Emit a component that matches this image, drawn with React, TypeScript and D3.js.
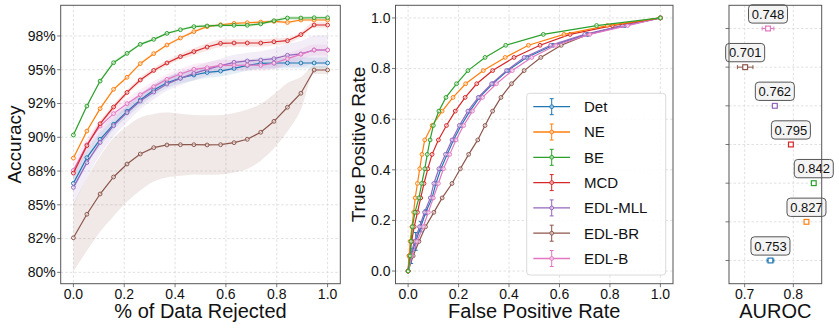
import React from 'react';
import * as d3 from 'd3';

const MODELS = ['Det', 'NE', 'BE', 'MCD', 'EDL-MLL', 'EDL-BR', 'EDL-B'];
const COLORS = ['#1f77b4', '#ff7f0e', '#2ca02c', '#d62728', '#9467bd', '#8c564b', '#e377c2'];

// Panel 1: accuracy vs fraction rejected
const REJECT = [0, 0.053, 0.105, 0.158, 0.211, 0.263, 0.316, 0.368, 0.421, 0.474, 0.526, 0.579, 0.632, 0.684, 0.737, 0.789, 0.842, 0.895, 0.947, 1];
const ACC_DET = [0.8659, 0.8849, 0.8985, 0.9096, 0.9192, 0.9276, 0.935, 0.9404, 0.9439, 0.9461, 0.948, 0.949, 0.951, 0.9532, 0.9547, 0.955, 0.955, 0.955, 0.955, 0.955];
const ACC_NE = [0.8846, 0.9046, 0.9212, 0.9355, 0.9444, 0.9545, 0.9619, 0.9683, 0.9735, 0.9782, 0.9819, 0.9833, 0.9843, 0.9848, 0.9853, 0.9858, 0.985, 0.9868, 0.9868, 0.9868];
const ACC_BE = [0.9017, 0.9231, 0.9416, 0.9552, 0.9621, 0.9688, 0.9725, 0.9769, 0.9796, 0.9819, 0.9824, 0.9829, 0.9829, 0.9829, 0.9839, 0.9863, 0.9883, 0.9883, 0.9885, 0.9885];
const ACC_MCD = [0.8735, 0.8938, 0.91, 0.9224, 0.9332, 0.9424, 0.9495, 0.955, 0.9597, 0.9634, 0.9668, 0.9695, 0.9698, 0.9698, 0.9698, 0.9707, 0.9715, 0.976, 0.9831, 0.9831];
const ACC_MLL = [0.8629, 0.8812, 0.8962, 0.9086, 0.9182, 0.9268, 0.9335, 0.9394, 0.9436, 0.9473, 0.9503, 0.953, 0.9555, 0.9565, 0.9572, 0.9582, 0.9607, 0.9617, 0.9646, 0.9646];
const ACC_BR = [0.8256, 0.843, 0.858, 0.8706, 0.8802, 0.8876, 0.8923, 0.8943, 0.8945, 0.8945, 0.8943, 0.8945, 0.896, 0.8985, 0.9037, 0.9118, 0.9222, 0.9326, 0.9498, 0.9498];
const ACC_B = [0.8755, 0.8945, 0.9083, 0.9175, 0.9249, 0.9315, 0.9375, 0.9429, 0.9468, 0.9503, 0.9515, 0.9532, 0.9532, 0.9535, 0.9533, 0.9548, 0.9582, 0.9614, 0.9646, 0.9646];

const STD_DET = [0.006, 0.005, 0.005, 0.004, 0.004, 0.004, 0.004, 0.004, 0.004, 0.004, 0.004, 0.004, 0.004, 0.004, 0.004, 0.004, 0.004, 0.004, 0.004, 0.004];
const STD_NE = [0.001, 0.001, 0.001, 0.001, 0.001, 0.001, 0.001, 0.001, 0.001, 0.001, 0.001, 0.001, 0.001, 0.001, 0.001, 0.001, 0.001, 0.001, 0.001, 0.001];
const STD_BE = [0.001, 0.001, 0.001, 0.001, 0.001, 0.001, 0.001, 0.001, 0.001, 0.001, 0.001, 0.001, 0.001, 0.001, 0.001, 0.0012, 0.0015, 0.0015, 0.0015, 0.0015];
const STD_MCD = [0.002, 0.002, 0.002, 0.002, 0.002, 0.002, 0.002, 0.002, 0.0022, 0.0025, 0.0027, 0.0028, 0.0028, 0.0028, 0.0027, 0.0025, 0.0022, 0.002, 0.002, 0.002];
const STD_MLL = [0.014, 0.011, 0.009, 0.008, 0.007, 0.006, 0.0055, 0.005, 0.005, 0.005, 0.005, 0.0052, 0.0055, 0.006, 0.0065, 0.0075, 0.0085, 0.0095, 0.0105, 0.011];
const STD_BR = [0.025, 0.027, 0.028, 0.029, 0.028, 0.027, 0.025, 0.024, 0.023, 0.022, 0.022, 0.022, 0.022, 0.022, 0.021, 0.02, 0.018, 0.012, 0.003, 0.003];
const STD_B = [0.006, 0.005, 0.004, 0.004, 0.004, 0.004, 0.004, 0.004, 0.004, 0.004, 0.004, 0.004, 0.004, 0.004, 0.004, 0.004, 0.004, 0.004, 0.004, 0.004];

const ACC_TICKS = [0.8, 0.825, 0.85, 0.875, 0.9, 0.925, 0.95, 0.975];
const ACC_TICK_LABELS = ['80%', '82%', '85%', '88%', '90%', '92%', '95%', '98%'];
const X_TICKS = [0, 0.2, 0.4, 0.6, 0.8, 1.0];

// Panel 2: ROC
const ROC_TPR = [0, 0.06, 0.117, 0.175, 0.232, 0.289, 0.346, 0.404, 0.461, 0.518, 0.575, 0.632, 0.686, 0.74, 0.792, 0.844, 0.892, 0.935, 0.97, 1.0];
const ROC_FPR_DET = [0, 0.012, 0.03, 0.05, 0.07, 0.095, 0.11, 0.13, 0.155, 0.18, 0.21, 0.245, 0.283, 0.335, 0.395, 0.47, 0.575, 0.71, 0.86, 1];
const ROC_FPR_NE = [0, 0.004, 0.008, 0.015, 0.022, 0.028, 0.037, 0.046, 0.055, 0.066, 0.095, 0.135, 0.178, 0.228, 0.298, 0.385, 0.477, 0.618, 0.79, 1];
const ROC_FPR_BE = [0, 0.008, 0.012, 0.017, 0.027, 0.043, 0.054, 0.066, 0.076, 0.087, 0.1, 0.122, 0.15, 0.192, 0.237, 0.305, 0.387, 0.536, 0.747, 1];
const ROC_FPR_MCD = [0, 0.004, 0.014, 0.024, 0.037, 0.05, 0.063, 0.078, 0.095, 0.12, 0.152, 0.187, 0.226, 0.272, 0.335, 0.42, 0.523, 0.642, 0.81, 1];
const ROC_FPR_MLL = [0, 0.01, 0.025, 0.045, 0.065, 0.088, 0.102, 0.122, 0.148, 0.174, 0.203, 0.237, 0.278, 0.331, 0.39, 0.46, 0.565, 0.7, 0.85, 1];
const ROC_FPR_BR = [0, 0.02, 0.043, 0.069, 0.102, 0.135, 0.174, 0.207, 0.24, 0.276, 0.305, 0.335, 0.368, 0.41, 0.46, 0.526, 0.607, 0.713, 0.849, 1];
const ROC_FPR_B = [0, 0.015, 0.035, 0.06, 0.08, 0.1, 0.12, 0.14, 0.165, 0.19, 0.22, 0.255, 0.295, 0.35, 0.413, 0.49, 0.585, 0.72, 0.87, 1];
const ROC_ERR_DET = [0, 0.03, 0.035, 0.02, 0.01, 0.005, 0, 0, 0, 0, 0, 0, 0, 0, 0, 0, 0, 0, 0, 0];
const ROC_TICKS = [0, 0.2, 0.4, 0.6, 0.8, 1.0];

// Panel 3: AUROC
const AUROC = [0.753, 0.827, 0.842, 0.795, 0.762, 0.701, 0.748];
const AUROC_ERR = [0.007, 0.002, 0.002, 0.002, 0.005, 0.016, 0.012];
const AUROC_TICKS = [0.7, 0.8];

const ACC = [ACC_DET, ACC_NE, ACC_BE, ACC_MCD, ACC_MLL, ACC_BR, ACC_B];
const STD = [STD_DET, STD_NE, STD_BE, STD_MCD, STD_MLL, STD_BR, STD_B];
const ROC_FPR = [ROC_FPR_DET, ROC_FPR_NE, ROC_FPR_BE, ROC_FPR_MCD, ROC_FPR_MLL, ROC_FPR_BR, ROC_FPR_B];

const FONT = '"Liberation Sans", Arial, Helvetica, sans-serif';
const GRID = '#d9d9d9';
const SPINE = '#555';
const TICK_Y = 298.5;
const LABEL_Y = 318;

const P1 = { x0: 60.7, x1: 340.3, y0: 5.3, y1: 283.7 };
const P2 = { x0: 395.5, x1: 673, y0: 5.3, y1: 283.7 };
const P3 = { x0: 729, x1: 821.7, y0: 5.3, y1: 283.7 };

function Frame({ p }: { p: any }) {
  return <rect x={p.x0} y={p.y0} width={p.x1 - p.x0} height={p.y1 - p.y0} fill="none" stroke={SPINE} strokeWidth={1} />;
}

export default function App() {
  const x1 = d3.scaleLinear().domain([-0.05, 1.05]).range([P1.x0, P1.x1]);
  const y1 = d3.scaleLinear().domain([0.7916, 0.9977]).range([P1.y1, P1.y0]);
  const x2 = d3.scaleLinear().domain([-0.05, 1.05]).range([P2.x0, P2.x1]);
  const y2 = d3.scaleLinear().domain([-0.05, 1.05]).range([P2.y1, P2.y0]);
  const x3 = d3.scaleLinear().domain([0.6678, 0.8583]).range([P3.x0, P3.x1]);
  const y3 = d3.scaleLinear().domain([-0.6, 6.6]).range([P3.y1, P3.y0]);

  const line1 = d3.line<[number, number]>().x(d => x1(d[0])).y(d => y1(d[1]));
  const area1 = d3.area<[number, number, number]>()
    .x(d => x1(d[0])).y0(d => y1(d[1] - d[2])).y1(d => y1(d[1] + d[2]))
    .curve(d3.curveMonotoneX);
  const line2 = d3.line<[number, number]>().x(d => x2(d[0])).y(d => y2(d[1]));

  const drawOrder = [5, 0, 4, 6, 3, 1, 2];

  return (
    <svg width={839} height={328} style={{ position: 'absolute', left: 0, top: 0, background: '#fff' }} fontFamily={FONT}>
      {/* ---------- Panel 1 ---------- */}
      <g>
        {ACC_TICKS.map((t, i) => (
          <g key={'y1' + i}>
            <line x1={P1.x0} x2={P1.x1} y1={y1(t)} y2={y1(t)} stroke={GRID} strokeWidth={0.8} strokeDasharray="2.5,2" />
            <line x1={P1.x0 - 3.5} x2={P1.x0} y1={y1(t)} y2={y1(t)} stroke={SPINE} strokeWidth={0.8} />
            <text x={P1.x0 - 5} y={y1(t)} dy="0.35em" textAnchor="end" fontSize={14} fill="#111">{ACC_TICK_LABELS[i]}</text>
          </g>
        ))}
        {X_TICKS.map((t, i) => (
          <g key={'x1' + i}>
            <line x1={x1(t)} x2={x1(t)} y1={P1.y0} y2={P1.y1} stroke={GRID} strokeWidth={0.8} strokeDasharray="2.5,2" />
            <line x1={x1(t)} x2={x1(t)} y1={P1.y1} y2={P1.y1 + 3.5} stroke={SPINE} strokeWidth={0.8} />
            <text x={x1(t)} y={TICK_Y} textAnchor="middle" fontSize={14} fill="#111">{t.toFixed(1)}</text>
          </g>
        ))}
        {drawOrder.map(m => (
          <path key={'band' + m}
            d={area1(REJECT.map((r, i) => [r, ACC[m][i], STD[m][i]] as [number, number, number])) || ''}
            fill={COLORS[m]} fillOpacity={m === 5 ? 0.13 : 0.12} stroke="none" />
        ))}
        {drawOrder.map(m => (
          <g key={'l1' + m}>
            <path d={line1(REJECT.map((r, i) => [r, ACC[m][i]] as [number, number])) || ''} fill="none" stroke={COLORS[m]} strokeWidth={1.2} />
            {REJECT.map((r, i) => (
              <circle key={i} cx={x1(r)} cy={y1(ACC[m][i])} r={1.9} fill="#fff" fillOpacity={0.55} stroke={COLORS[m]} strokeWidth={1} />
            ))}
          </g>
        ))}
        <Frame p={P1} />
        <text transform={`translate(20.5,${(P1.y0 + P1.y1) / 2}) rotate(-90)`} textAnchor="middle" fontSize={19} fill="#111">Accuracy</text>
        <text x={(P1.x0 + P1.x1) / 2} y={LABEL_Y} textAnchor="middle" fontSize={20} fill="#111">% of Data Rejected</text>
      </g>

      {/* ---------- Panel 2 ---------- */}
      <g>
        {ROC_TICKS.map((t, i) => (
          <g key={'g2' + i}>
            <line x1={P2.x0} x2={P2.x1} y1={y2(t)} y2={y2(t)} stroke={GRID} strokeWidth={0.8} strokeDasharray="2.5,2" />
            <line x1={x2(t)} x2={x2(t)} y1={P2.y0} y2={P2.y1} stroke={GRID} strokeWidth={0.8} strokeDasharray="2.5,2" />
            <line x1={P2.x0 - 3.5} x2={P2.x0} y1={y2(t)} y2={y2(t)} stroke={SPINE} strokeWidth={0.8} />
            <line x1={x2(t)} x2={x2(t)} y1={P2.y1} y2={P2.y1 + 3.5} stroke={SPINE} strokeWidth={0.8} />
            <text x={P2.x0 - 5} y={y2(t)} dy="0.35em" textAnchor="end" fontSize={14} fill="#111">{t.toFixed(1)}</text>
            <text x={x2(t)} y={TICK_Y} textAnchor="middle" fontSize={14} fill="#111">{t.toFixed(1)}</text>
          </g>
        ))}
        {drawOrder.map(m => (
          <g key={'roc' + m}>
            <path d={line2(ROC_TPR.map((t, i) => [ROC_FPR[m][i], t] as [number, number])) || ''} fill="none" stroke={COLORS[m]} strokeWidth={1.2} />
            {m === 0 && ROC_TPR.map((t, i) => ROC_ERR_DET[i] > 0 ? (
              <g key={'e' + i} stroke={COLORS[0]} strokeWidth={1}>
                <line x1={x2(ROC_FPR[0][i])} x2={x2(ROC_FPR[0][i])} y1={y2(t - ROC_ERR_DET[i])} y2={y2(t + ROC_ERR_DET[i])} />
                <line x1={x2(ROC_FPR[0][i]) - 2} x2={x2(ROC_FPR[0][i]) + 2} y1={y2(t - ROC_ERR_DET[i])} y2={y2(t - ROC_ERR_DET[i])} />
                <line x1={x2(ROC_FPR[0][i]) - 2} x2={x2(ROC_FPR[0][i]) + 2} y1={y2(t + ROC_ERR_DET[i])} y2={y2(t + ROC_ERR_DET[i])} />
              </g>
            ) : null)}
            {ROC_TPR.map((t, i) => (
              <circle key={i} cx={x2(ROC_FPR[m][i])} cy={y2(t)} r={1.9} fill="#fff" fillOpacity={0.55} stroke={COLORS[m]} strokeWidth={1} />
            ))}
          </g>
        ))}
        <Frame p={P2} />
        {/* legend */}
        <rect x={526.7} y={93.3} width={139} height={181.7} rx={3} fill="#fff" fillOpacity={0.85} stroke="#d0d0d0" strokeWidth={0.8} />
        {MODELS.map((name, m) => {
          const ly = 106.7 + m * 25.3;
          return (
            <g key={'lg' + m}>
              <line x1={533.3} x2={570} y1={ly} y2={ly} stroke={COLORS[m]} strokeWidth={1.3} />
              <line x1={551.7} x2={551.7} y1={ly - 8} y2={ly + 8} stroke={COLORS[m]} strokeWidth={1} />
              <line x1={549.7} x2={553.7} y1={ly - 8} y2={ly - 8} stroke={COLORS[m]} strokeWidth={1} />
              <line x1={549.7} x2={553.7} y1={ly + 8} y2={ly + 8} stroke={COLORS[m]} strokeWidth={1} />
              <circle cx={551.7} cy={ly} r={1.9} fill="#fff" fillOpacity={0.55} stroke={COLORS[m]} strokeWidth={1} />
              <text x={584} y={ly} dy="0.36em" fontSize={15} fill="#111">{name}</text>
            </g>
          );
        })}
        <text transform={`translate(365,${(P2.y0 + P2.y1) / 2}) rotate(-90)`} textAnchor="middle" fontSize={19} fill="#111">True Positive Rate</text>
        <text x={(P2.x0 + P2.x1) / 2} y={LABEL_Y} textAnchor="middle" fontSize={20} fill="#111">False Positive Rate</text>
      </g>

      {/* ---------- Panel 3 ---------- */}
      <g>
        {AUROC_TICKS.map((t, i) => (
          <g key={'x3' + i}>
            <line x1={x3(t)} x2={x3(t)} y1={P3.y0} y2={P3.y1} stroke={GRID} strokeWidth={0.8} strokeDasharray="2.5,2" />
            <line x1={x3(t)} x2={x3(t)} y1={P3.y1} y2={P3.y1 + 3.5} stroke={SPINE} strokeWidth={0.8} />
            <text x={x3(t)} y={TICK_Y} textAnchor="middle" fontSize={14} fill="#111">{t.toFixed(1)}</text>
          </g>
        ))}
        {MODELS.map((_, m) => (
          <g key={'y3' + m}>
            <line x1={P3.x0} x2={P3.x1} y1={y3(m)} y2={y3(m)} stroke={GRID} strokeWidth={0.8} strokeDasharray="2.5,2" />
            <line x1={P3.x0 - 3.5} x2={P3.x0} y1={y3(m)} y2={y3(m)} stroke={SPINE} strokeWidth={0.8} />
          </g>
        ))}
        {MODELS.map((_, m) => {
          const cx = x3(AUROC[m]);
          const cy = y3(m);
          const lo = x3(AUROC[m] - AUROC_ERR[m]);
          const hi = x3(AUROC[m] + AUROC_ERR[m]);
          return (
            <g key={'au' + m}>
              <g stroke={COLORS[m]} strokeWidth={1}>
                <line x1={lo} x2={hi} y1={cy} y2={cy} />
                <line x1={lo} x2={lo} y1={cy - 2} y2={cy + 2} />
                <line x1={hi} x2={hi} y1={cy - 2} y2={cy + 2} />
              </g>
              <rect x={cx - 2.4} y={cy - 2.4} width={4.8} height={4.8} fill="#fff" stroke={COLORS[m]} strokeWidth={1.2} />
              <rect x={cx - 19.5} y={cy - 23.7} width={39} height={18.3} rx={3.5} fill="#f4f4f4" stroke="#444" strokeWidth={0.9} />
              <text x={cx} y={cy - 14.5} dy="0.35em" textAnchor="middle" fontSize={13} fill="#111">{AUROC[m].toFixed(3)}</text>
            </g>
          );
        })}
        <Frame p={P3} />
        <text x={(P3.x0 + P3.x1) / 2} y={LABEL_Y} textAnchor="middle" fontSize={20} fill="#111">AUROC</text>
      </g>
    </svg>
  );
}
